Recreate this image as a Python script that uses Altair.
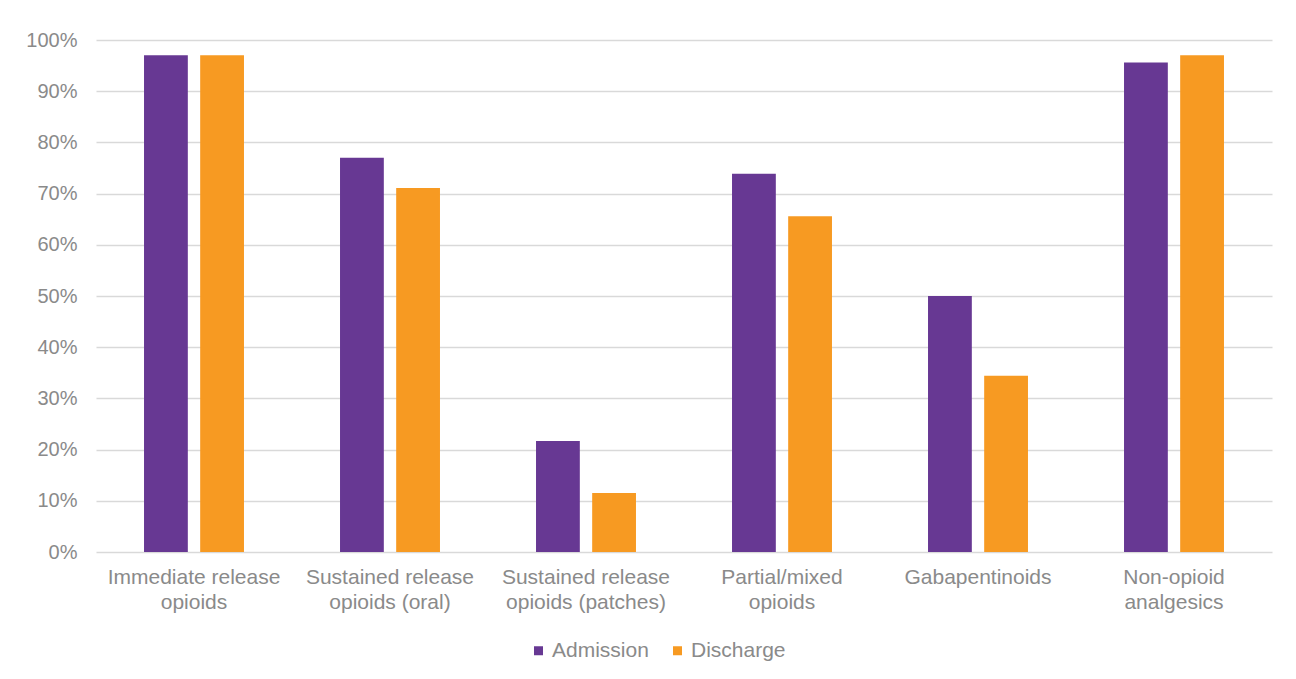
import altair as alt
import pandas as pd

categories = [
    "Immediate release opioids",
    "Sustained release opioids (oral)",
    "Sustained release opioids (patches)",
    "Partial/mixed opioids",
    "Gabapentinoids",
    "Non-opioid analgesics",
]
label_lines = [
    ["Immediate release", "opioids"],
    ["Sustained release", "opioids (oral)"],
    ["Sustained release", "opioids (patches)"],
    ["Partial/mixed", "opioids"],
    ["Gabapentinoids"],
    ["Non-opioid", "analgesics"],
]
series = ["Admission", "Discharge"]
admission = [0.970, 0.770, 0.217, 0.739, 0.500, 0.956]
discharge = [0.970, 0.711, 0.115, 0.656, 0.344, 0.970]
colors = ["#673893", "#F79A22"]

rows = []
for i, c in enumerate(categories):
    rows.append({"category": c, "series": "Admission", "value": admission[i]})
    rows.append({"category": c, "series": "Discharge", "value": discharge[i]})
df = pd.DataFrame(rows)

def js_list(lines):
    return "[" + ",".join("'" + l + "'" for l in lines) + "]"

label_expr = "{" + ",".join(
    "'" + c + "':" + js_list(l) for c, l in zip(categories, label_lines)
) + "}[datum.label]"

font = "Liberation Sans"
text_color = "#8a8a8a"

chart = (
    alt.Chart(df)
    .mark_bar()
    .encode(
        x=alt.X(
            "category:N",
            sort=categories,
            title=None,
            scale=alt.Scale(paddingInner=0.49, paddingOuter=0.245),
            axis=alt.Axis(
                labelExpr=label_expr,
                labelAngle=0,
                labelFont=font,
                labelFontSize=21,
                labelColor=text_color,
                labelLineHeight=25,
                labelPadding=14,
                ticks=False,
                domain=False,
                grid=False,
                labelLimit=300,
            ),
        ),
        xOffset=alt.XOffset(
            "series:N",
            sort=series,
            scale=alt.Scale(paddingInner=0.22, paddingOuter=0),
        ),
        y=alt.Y(
            "value:Q",
            title=None,
            scale=alt.Scale(domain=[0, 1], nice=False),
            axis=alt.Axis(
                format=".0%",
                values=[i / 10 for i in range(11)],
                labelFont=font,
                labelFontSize=20,
                labelColor=text_color,
                labelPadding=19,
                ticks=False,
                domain=False,
                gridColor="#d9d9d9",
                gridWidth=1.5,
            ),
        ),
        color=alt.Color(
            "series:N",
            sort=series,
            scale=alt.Scale(domain=series, range=colors),
            legend=alt.Legend(
                title=None,
                orient="none",
                direction="horizontal",
                legendX=432,
                legendY=600,
                symbolType="square",
                symbolSize=81,
                symbolStrokeWidth=0,
                labelFont=font,
                labelFontSize=21,
                labelColor=text_color,
                labelOffset=3,
                columnPadding=18,
            ),
        ),
    )
    .properties(
        width=1176,
        height=512,
        autosize=alt.AutoSizeParams(type="none"),
        padding={"left": 88, "top": 32, "right": 12, "bottom": 115},
        background="white",
    )
    .configure_view(stroke=None)
)

chart.save("out.html", embed_options={"renderer": "svg", "actions": False})
